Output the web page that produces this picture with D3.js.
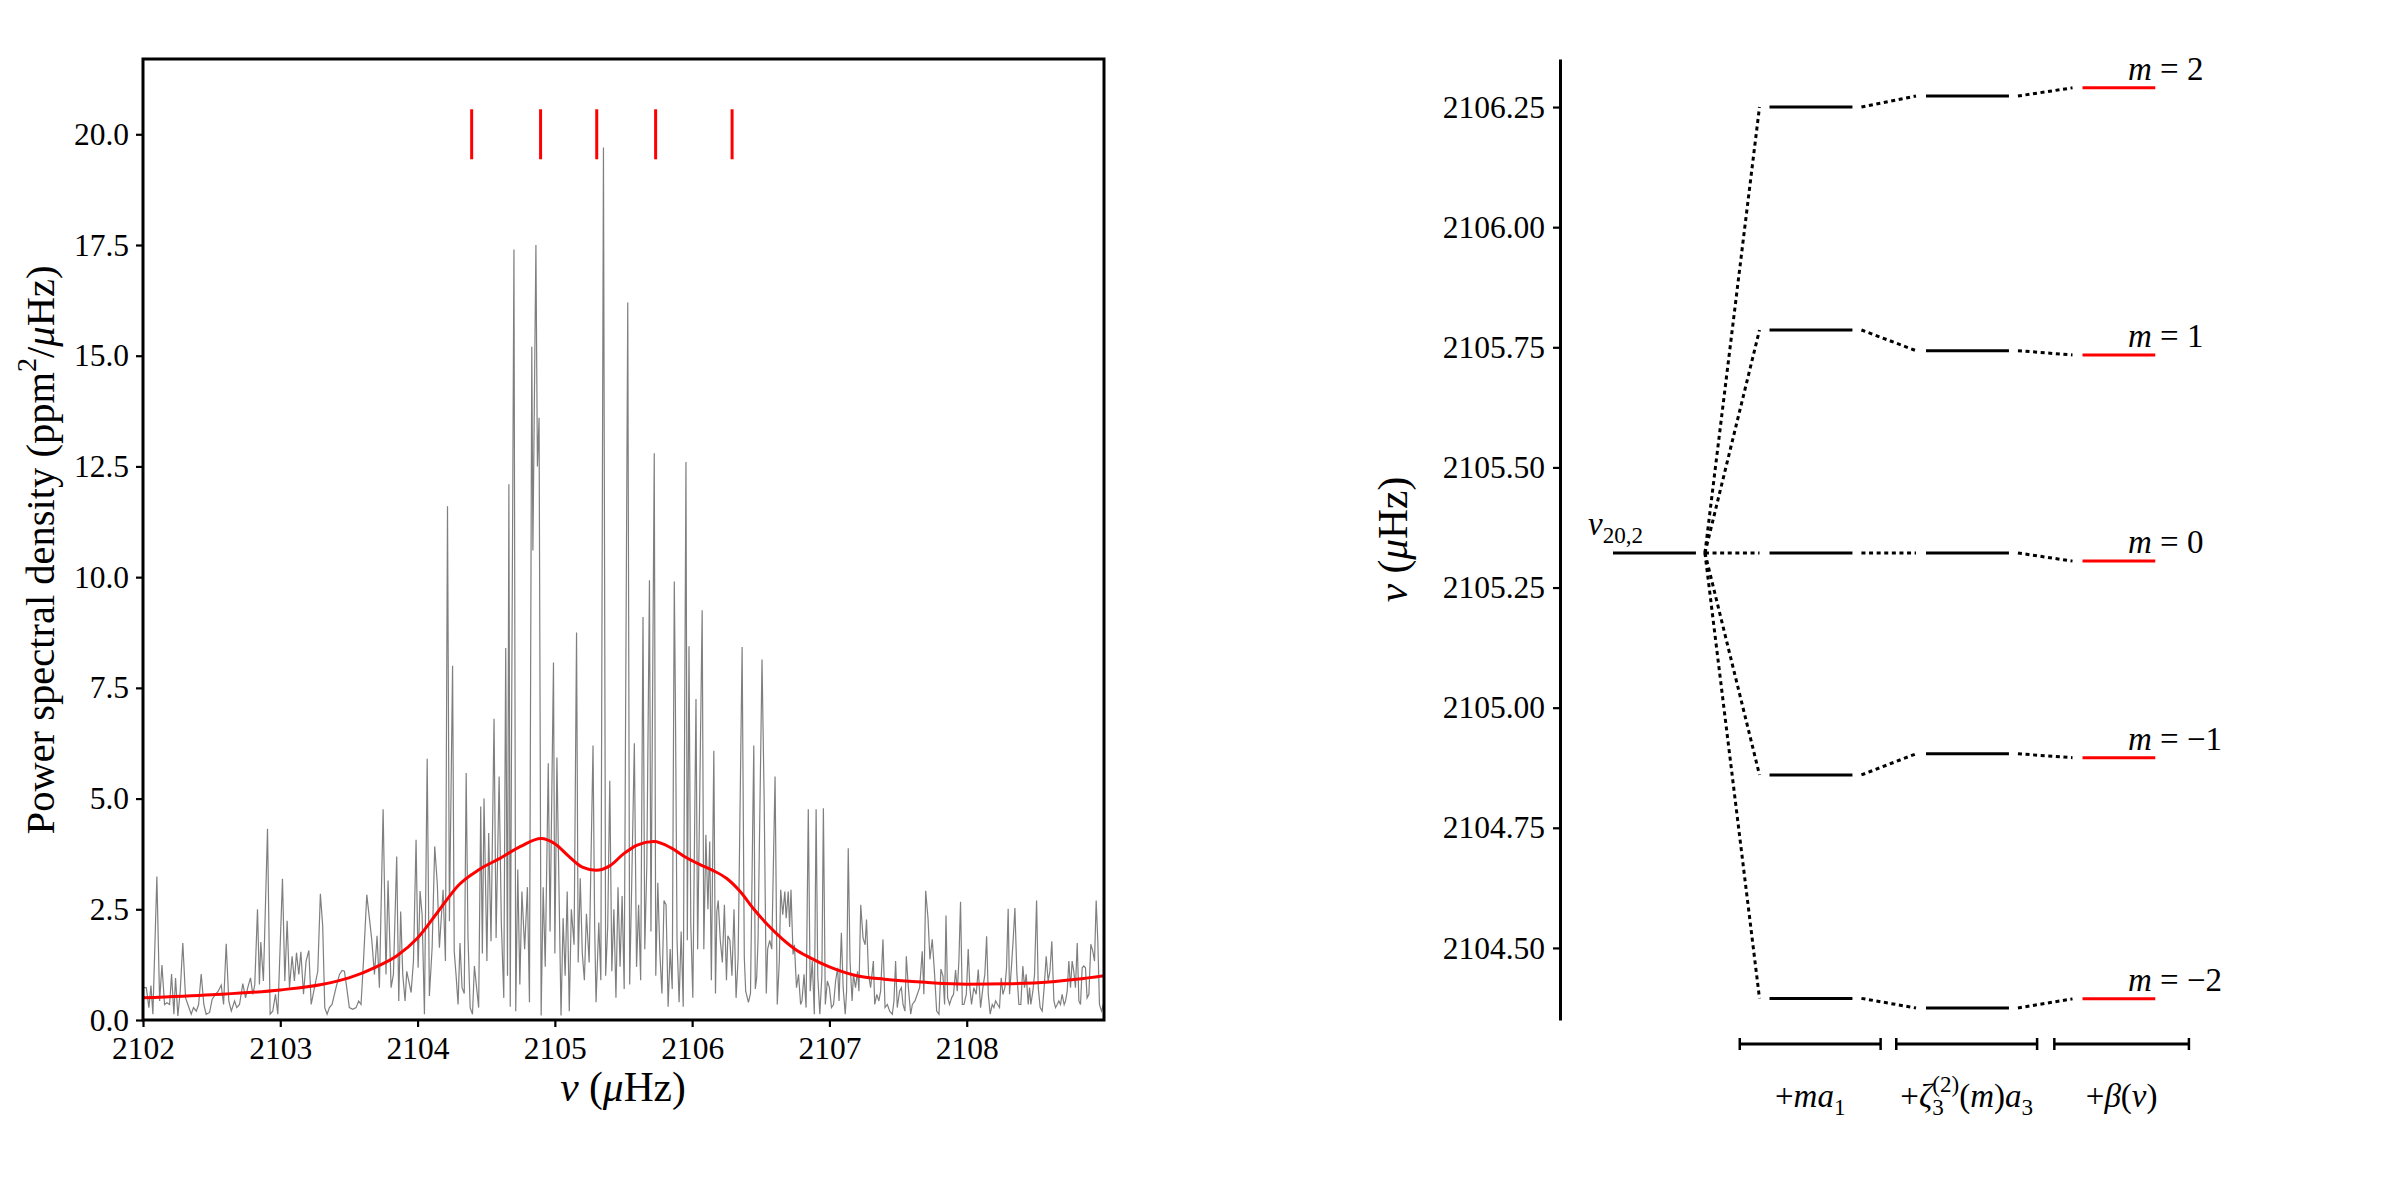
<!DOCTYPE html>
<html>
<head>
<meta charset="utf-8">
<script src="https://cdn.jsdelivr.net/npm/d3@7.8.5/dist/d3.min.js"></script>
<style>
  html, body { margin: 0; padding: 0; background: #fff; }
  svg { display: block; }
</style>
</head>
<body>
<svg id="chart" width="2400" height="1200"></svg>
<script>
// ---- left panel: power spectrum (freq in uHz, psd in ppm^2/uHz)
const spectrum = [
  [2102.000,0.73],[2102.024,0.73],[2102.043,0.28],[2102.058,0.78],[2102.072,0.13],[2102.101,3.24],[2102.121,0.43],[2102.138,1.24],
  [2102.157,0.35],[2102.174,0.39],[2102.194,0.35],[2102.208,1.04],[2102.225,0.13],[2102.237,0.95],[2102.254,0.09],[2102.271,0.65],
  [2102.290,1.74],[2102.310,0.50],[2102.327,0.35],[2102.351,0.13],[2102.368,0.28],[2102.388,0.20],[2102.405,0.35],[2102.424,1.04],
  [2102.443,0.35],[2102.460,0.13],[2102.485,0.17],[2102.504,0.47],[2102.528,0.58],[2102.548,0.65],[2102.570,0.79],[2102.587,0.35],
  [2102.606,1.72],[2102.625,0.43],[2102.643,0.20],[2102.667,0.43],[2102.683,0.28],[2102.703,0.35],[2102.727,0.82],[2102.747,0.50],
  [2102.763,0.73],[2102.783,0.95],[2102.800,0.58],[2102.814,0.79],[2102.834,2.50],[2102.848,0.80],[2102.858,1.76],[2102.877,0.88],
  [2102.907,4.32],[2102.926,0.13],[2102.945,0.20],[2102.965,0.58],[2102.982,0.13],[2103.016,3.19],[2103.033,0.88],[2103.050,2.24],
  [2103.067,0.73],[2103.086,1.44],[2103.103,0.88],[2103.118,1.52],[2103.135,1.03],[2103.150,1.54],[2103.169,0.58],[2103.188,1.33],
  [2103.208,1.57],[2103.225,0.35],[2103.249,0.73],[2103.273,1.10],[2103.292,2.85],[2103.309,2.12],[2103.324,0.28],[2103.341,0.13],
  [2103.358,0.28],[2103.377,0.35],[2103.406,0.73],[2103.431,1.03],[2103.450,1.12],[2103.467,1.10],[2103.484,0.73],[2103.503,0.28],
  [2103.528,0.24],[2103.552,0.28],[2103.571,0.43],[2103.588,0.35],[2103.606,1.33],[2103.630,2.83],[2103.649,2.30],[2103.666,1.82],
  [2103.686,1.03],[2103.705,1.90],[2103.722,0.73],[2103.749,4.76],[2103.770,1.03],[2103.785,3.15],[2103.807,0.73],[2103.824,1.03],
  [2103.848,3.69],[2103.863,0.43],[2103.877,2.45],[2103.892,1.03],[2103.909,0.43],[2103.921,1.10],[2103.936,0.88],[2103.953,0.62],
  [2103.970,1.33],[2103.989,4.07],[2104.004,1.18],[2104.018,2.91],[2104.033,2.38],[2104.050,0.13],[2104.070,5.90],[2104.086,0.54],
  [2104.106,1.63],[2104.125,3.92],[2104.144,3.06],[2104.159,1.63],[2104.171,2.23],[2104.186,2.94],[2104.203,1.33],[2104.218,11.6],
  [2104.232,2.23],[2104.255,8.00],[2104.267,1.55],[2104.280,1.03],[2104.295,0.35],[2104.309,1.74],[2104.324,0.73],[2104.340,0.60],
  [2104.354,5.58],[2104.367,1.90],[2104.383,0.28],[2104.400,0.13],[2104.414,1.22],[2104.430,0.73],[2104.445,0.28],[2104.460,4.82],
  [2104.472,1.50],[2104.484,5.00],[2104.505,1.33],[2104.518,4.22],[2104.535,1.78],[2104.557,6.80],[2104.572,1.85],[2104.594,5.50],
  [2104.610,2.20],[2104.628,0.50],[2104.642,8.40],[2104.655,1.00],[2104.665,12.1],[2104.675,0.30],[2104.702,17.4],[2104.715,0.20],
  [2104.730,3.40],[2104.745,0.80],[2104.760,2.90],[2104.780,1.60],[2104.800,3.00],[2104.815,0.40],[2104.832,15.2],[2104.840,10.6],
  [2104.862,17.5],[2104.873,12.5],[2104.885,13.6],[2104.900,0.10],[2104.915,3.00],[2104.930,1.20],[2104.952,5.80],[2104.965,2.00],
  [2104.990,8.07],[2105.000,1.50],[2105.015,5.93],[2105.030,3.00],[2105.045,0.10],[2105.060,2.30],[2105.075,1.00],[2105.090,2.90],
  [2105.105,0.20],[2105.120,2.50],[2105.140,1.70],[2105.158,8.75],[2105.170,1.30],[2105.185,3.20],[2105.200,1.50],[2105.215,0.90],
  [2105.230,2.40],[2105.250,1.30],[2105.278,6.20],[2105.290,2.10],[2105.300,0.40],[2105.320,2.20],[2105.335,0.90],[2105.354,19.7],
  [2105.370,1.00],[2105.385,2.10],[2105.400,5.40],[2105.415,1.10],[2105.430,2.50],[2105.445,0.50],[2105.460,3.00],[2105.475,1.20],
  [2105.490,2.80],[2105.505,0.70],[2105.531,16.2],[2105.545,0.80],[2105.560,3.10],[2105.579,6.25],[2105.595,1.20],[2105.610,2.60],
  [2105.625,0.90],[2105.642,9.10],[2105.655,1.60],[2105.670,3.50],[2105.689,9.93],[2105.700,2.00],[2105.724,12.8],[2105.735,1.00],
  [2105.750,3.10],[2105.765,1.50],[2105.780,0.60],[2105.795,2.70],[2105.810,2.60],[2105.825,0.30],[2105.840,1.60],[2105.855,0.70],
  [2105.870,9.90],[2105.878,7.20],[2105.890,1.80],[2105.905,0.40],[2105.920,2.00],[2105.935,0.30],[2105.955,12.6],[2105.965,1.80],
  [2105.977,8.44],[2105.990,2.20],[2106.005,0.50],[2106.028,7.25],[2106.040,1.60],[2106.055,5.00],[2106.073,9.25],[2106.085,1.60],
  [2106.100,4.18],[2106.115,2.50],[2106.128,4.03],[2106.140,0.90],[2106.158,6.08],[2106.170,0.60],[2106.180,2.45],[2106.190,2.70],
  [2106.205,1.80],[2106.220,1.30],[2106.235,2.60],[2106.250,0.90],[2106.260,1.90],[2106.275,1.80],[2106.290,1.00],[2106.305,2.50],
  [2106.320,0.50],[2106.335,1.40],[2106.364,8.42],[2106.380,1.40],[2106.390,0.65],[2106.410,0.40],[2106.425,0.60],[2106.449,6.20],
  [2106.460,0.70],[2106.470,0.95],[2106.480,1.80],[2106.509,8.14],[2106.525,4.86],[2106.540,0.60],[2106.550,1.60],[2106.565,1.80],
  [2106.580,1.60],[2106.604,5.50],[2106.620,0.35],[2106.635,1.33],[2106.645,2.94],[2106.660,2.38],[2106.675,2.90],[2106.685,2.30],
  [2106.700,2.90],[2106.710,2.10],[2106.720,2.94],[2106.735,1.48],[2106.745,1.70],[2106.760,0.73],[2106.775,1.03],[2106.790,0.35],
  [2106.800,0.43],[2106.815,1.03],[2106.830,0.28],[2106.846,4.76],[2106.860,0.65],[2106.875,1.33],[2106.890,0.13],[2106.903,4.76],
  [2106.915,1.00],[2106.930,0.13],[2106.945,1.00],[2106.956,4.78],[2106.970,0.35],[2106.985,0.88],[2107.000,0.73],[2107.015,0.28],
  [2107.030,0.35],[2107.045,0.88],[2107.060,1.18],[2107.070,0.43],[2107.087,1.97],[2107.100,0.73],[2107.115,0.13],[2107.125,0.65],
  [2107.137,3.88],[2107.150,1.33],[2107.165,0.43],[2107.175,1.03],[2107.190,0.73],[2107.205,1.10],[2107.215,0.65],[2107.228,2.60],
  [2107.245,1.85],[2107.260,1.70],[2107.270,2.27],[2107.285,1.03],[2107.300,0.73],[2107.320,1.33],[2107.330,0.35],[2107.345,0.58],
  [2107.360,0.43],[2107.373,0.65],[2107.390,1.82],[2107.405,0.28],[2107.422,0.35],[2107.439,0.20],[2107.458,0.13],[2107.470,0.43],
  [2107.482,1.33],[2107.494,0.28],[2107.511,0.65],[2107.524,0.73],[2107.536,0.35],[2107.550,0.20],[2107.560,1.44],[2107.575,0.73],
  [2107.592,0.13],[2107.604,0.35],[2107.623,0.43],[2107.640,0.58],[2107.657,0.73],[2107.676,1.55],[2107.688,0.58],[2107.701,2.92],
  [2107.718,2.30],[2107.732,1.37],[2107.749,1.82],[2107.766,1.03],[2107.781,0.20],[2107.798,0.13],[2107.812,1.15],[2107.827,0.99],
  [2107.839,0.35],[2107.849,2.36],[2107.861,0.50],[2107.875,0.35],[2107.890,0.50],[2107.904,0.58],[2107.919,1.13],[2107.931,0.65],
  [2107.943,1.33],[2107.955,2.67],[2107.968,0.35],[2107.980,0.35],[2107.997,0.58],[2108.011,1.60],[2108.023,0.73],[2108.035,0.35],
  [2108.052,0.73],[2108.069,0.58],[2108.084,1.14],[2108.101,0.28],[2108.118,0.73],[2108.132,1.03],[2108.145,1.89],[2108.157,0.58],
  [2108.171,0.13],[2108.186,0.35],[2108.198,0.28],[2108.210,0.43],[2108.225,0.35],[2108.239,0.28],[2108.251,0.95],[2108.264,0.58],
  [2108.278,0.73],[2108.290,1.18],[2108.302,2.51],[2108.312,0.58],[2108.327,1.26],[2108.339,1.84],[2108.351,2.53],[2108.365,1.07],
  [2108.380,0.35],[2108.394,0.35],[2108.409,1.22],[2108.421,0.73],[2108.433,1.03],[2108.448,0.35],[2108.458,0.73],[2108.467,0.35],
  [2108.482,0.65],[2108.494,1.03],[2108.509,2.70],[2108.521,0.73],[2108.535,0.28],[2108.550,0.20],[2108.564,0.73],[2108.579,1.44],
  [2108.593,0.88],[2108.606,1.10],[2108.620,1.78],[2108.635,0.43],[2108.647,0.28],[2108.659,0.35],[2108.671,0.43],[2108.683,0.35],
  [2108.695,0.58],[2108.710,0.35],[2108.720,0.43],[2108.732,0.65],[2108.744,1.33],[2108.756,0.73],[2108.768,1.33],[2108.780,1.10],
  [2108.792,0.73],[2108.805,1.74],[2108.817,0.43],[2108.829,0.35],[2108.841,1.18],[2108.853,1.22],[2108.865,1.18],[2108.877,0.50],
  [2108.890,0.58],[2108.904,1.71],[2108.918,1.56],[2108.931,1.33],[2108.943,2.70],[2108.955,1.78],[2108.967,0.35],[2108.982,0.20],
  [2109.000,0.40]
];

// fitted profile (red curve)
const model = [
  [2102.0,0.50],[2102.5,0.57],[2103.0,0.68],[2103.3,0.80],[2103.5,0.95],[2103.7,1.20],[2103.85,1.45],[2104.0,1.85],
  [2104.15,2.45],[2104.3,3.05],[2104.45,3.40],[2104.6,3.65],[2104.75,3.92],[2104.9,4.10],[2105.0,3.98],[2105.1,3.70],
  [2105.2,3.45],[2105.3,3.38],[2105.4,3.48],[2105.5,3.75],[2105.6,3.95],[2105.72,4.03],[2105.85,3.88],[2105.95,3.68],
  [2106.05,3.52],[2106.15,3.38],[2106.25,3.20],[2106.35,2.90],[2106.45,2.50],[2106.55,2.15],[2106.65,1.85],[2106.75,1.60],
  [2106.85,1.42],[2107.0,1.20],[2107.2,1.00],[2107.4,0.92],[2107.7,0.85],[2108.0,0.81],[2108.3,0.82],[2108.6,0.86],
  [2108.8,0.92],[2109.0,1.00]
];

const markFreqs = [2104.394, 2104.896, 2105.305, 2105.734, 2106.291];
const markLevel = 20;
const xTicksLeft = [2102, 2103, 2104, 2105, 2106, 2107, 2108];
const yTicksLeft = [0, 2.5, 5, 7.5, 10, 12.5, 15, 17.5, 20];

// ---- right panel: splitting diagram (uHz)
const mOrders = [2, 1, 0, -1, -2];
const baseFreq = 2105.322;
const stepRot = [2106.250, 2105.786, 2105.322, 2104.860, 2104.395];   // + m a1
const stepAcoef = [2106.273, 2105.743, 2105.322, 2104.904, 2104.375]; // + zeta a3
const stepFinal = [2106.290, 2105.734, 2105.305, 2104.896, 2104.394]; // + beta(nu)
const yTicksRight = [2104.5, 2104.75, 2105.0, 2105.25, 2105.5, 2105.75, 2106.0, 2106.25];

const FONT = "'Liberation Serif', 'Times New Roman', serif";
const TICK_FS = 31.5, LABEL_FS = 41.5, ANNOT_FS = 33;

const svg = d3.select('#chart');
svg.append('rect').attr('width', 2400).attr('height', 1200).attr('fill', '#fff');

// small helper for math-like labels (italic runs, sub/superscripts)
function mathText(parent, x, y, runs, opts) {
  const size = opts.size;
  const g = parent.append('g');
  const inner = g.append('g');
  let cx = 0, stack = null;
  runs.forEach(r => {
    const small = r.sub || r.sup;
    const fs = small ? size * 0.7 : size;
    const dy = r.sub ? size * 0.25 : (r.sup ? -size * 0.45 : 0);
    const t = inner.append('text')
      .attr('x', cx).attr('y', dy)
      .attr('font-family', FONT).attr('font-size', fs)
      .attr('font-style', r.it ? 'italic' : 'normal')
      .attr('fill', '#000')
      .text(r.s);
    const w = t.node().getComputedTextLength();
    if (r.stack) { stack = { x: cx, w }; }
    else if (stack) { cx = stack.x + Math.max(w, stack.w); stack = null; }
    else cx += w;
  });
  const off = opts.anchor === 'middle' ? -cx / 2 : opts.anchor === 'end' ? -cx : 0;
  inner.attr('transform', `translate(${off},0)`);
  g.attr('transform', `translate(${x},${y}) rotate(${opts.rotate || 0})`);
  return g;
}

function styleAxis(sel, fs) {
  sel.attr('font-family', FONT).attr('font-size', fs);
  sel.selectAll('.tick line').attr('stroke', '#000').attr('stroke-width', 2.2);
  sel.selectAll('.tick text').attr('fill', '#000');
}

// ================= left panel =================
const xL = d3.scaleLinear().domain([2102, 2109]).range([143, 1104]);
const yL = d3.scaleLinear().domain([0, 21.7]).range([1020, 59]);

svg.append('clipPath').attr('id', 'clipL')
  .append('rect').attr('x', 143).attr('y', 59).attr('width', 961).attr('height', 961);

const plotL = svg.append('g').attr('clip-path', 'url(#clipL)');

plotL.append('path')
  .datum(spectrum)
  .attr('fill', 'none')
  .attr('stroke', '#7f7f7f')
  .attr('stroke-width', 1.2)
  .attr('d', d3.line().x(d => xL(d[0])).y(d => yL(d[1])));

plotL.append('path')
  .datum(model)
  .attr('fill', 'none')
  .attr('stroke', '#ff0000')
  .attr('stroke-width', 3)
  .attr('d', d3.line().curve(d3.curveMonotoneX).x(d => xL(d[0])).y(d => yL(d[1])));

plotL.selectAll('line.mark')
  .data(markFreqs)
  .enter().append('line')
  .attr('class', 'mark')
  .attr('x1', d => xL(d)).attr('x2', d => xL(d))
  .attr('y1', yL(markLevel) - 25).attr('y2', yL(markLevel) + 25)
  .attr('stroke', '#ff0000').attr('stroke-width', 3);

const axBL = svg.append('g').attr('transform', 'translate(0,1020)')
  .call(d3.axisBottom(xL).tickValues(xTicksLeft).tickSize(7).tickSizeOuter(0).tickPadding(10).tickFormat(d3.format('d')));
axBL.select('.domain').remove();
styleAxis(axBL, TICK_FS);

const axLL = svg.append('g').attr('transform', 'translate(143,0)')
  .call(d3.axisLeft(yL).tickValues(yTicksLeft).tickSize(7).tickSizeOuter(0).tickPadding(7).tickFormat(d3.format('.1f')));
axLL.select('.domain').remove();
styleAxis(axLL, TICK_FS);

svg.append('rect')
  .attr('x', 143).attr('y', 59).attr('width', 961).attr('height', 961)
  .attr('fill', 'none').attr('stroke', '#000').attr('stroke-width', 3);

mathText(svg, 623, 1101, [
  { s: 'ν', it: true }, { s: '\u00a0(' }, { s: 'μ', it: true }, { s: 'Hz)' }
], { size: LABEL_FS, anchor: 'middle' });

mathText(svg, 54, 550, [
  { s: 'Power spectral density (ppm' }, { s: '2', sup: true }, { s: '/' }, { s: 'μ', it: true }, { s: 'Hz)' }
], { size: 40.5, anchor: 'middle', rotate: -90 });

// ================= right panel =================
const yR = d3.scaleLinear().domain([2104.35, 2106.35]).range([1020, 59]);
const xR = d3.scaleLinear().domain([0, 1]).range([1613, 1769.5]);

const axR = svg.append('g').attr('transform', 'translate(1560,0)')
  .call(d3.axisLeft(yR).tickValues(yTicksRight).tickSize(7).tickSizeOuter(0).tickPadding(8).tickFormat(d3.format('.2f')));
axR.select('.domain').attr('stroke', '#000').attr('stroke-width', 3);
styleAxis(axR, TICK_FS);

mathText(svg, 1407, 539.5, [
  { s: 'ν', it: true }, { s: '\u00a0(' }, { s: 'μ', it: true }, { s: 'Hz)' }
], { size: LABEL_FS, anchor: 'middle', rotate: -90 });

const steps = [stepRot, stepAcoef, stepFinal];
const stepWidth = [0.53, 0.53, 0.465];
const plotR = svg.append('g');

// connectors
const dotted = plotR.append('g')
  .attr('stroke', '#000').attr('stroke-width', 3)
  .attr('stroke-dasharray', '4,3.6').attr('fill', 'none');

steps.forEach((lev, i) => {
  const prev = i === 0 ? mOrders.map(() => baseFreq) : steps[i - 1];
  const prevEnd = i === 0 ? 0.53 : i + stepWidth[i - 1];
  dotted.selectAll(null)
    .data(lev)
    .enter().append('line')
    .attr('x1', xR(prevEnd) + 9).attr('y1', (d, k) => yR(prev[k]))
    .attr('x2', xR(i + 1) - 10).attr('y2', d => yR(d));
});

// base level
plotR.append('line')
  .attr('x1', xR(0)).attr('x2', xR(0.53))
  .attr('y1', yR(baseFreq)).attr('y2', yR(baseFreq))
  .attr('stroke', '#000').attr('stroke-width', 3);

steps.forEach((lev, i) => {
  plotR.selectAll(null)
    .data(lev)
    .enter().append('line')
    .attr('x1', xR(i + 1)).attr('x2', xR(i + 1 + stepWidth[i]))
    .attr('y1', d => yR(d)).attr('y2', d => yR(d))
    .attr('stroke', i === 2 ? '#ff0000' : '#000')
    .attr('stroke-width', 3);
});

mathText(svg, 1588, yR(baseFreq) - 18, [
  { s: 'ν', it: true }, { s: '20,2', sub: true }
], { size: ANNOT_FS });

stepFinal.forEach((f, k) => {
  const m = mOrders[k];
  mathText(svg, 2128, yR(f) - 8, [
    { s: 'm', it: true }, { s: '\u00a0=\u00a0' }, { s: m < 0 ? '\u2212' + Math.abs(m) : String(m) }
  ], { size: ANNOT_FS });
});

// brackets for each step
const bracketSpan = [[0.81, 1.71], [1.81, 2.71], [2.82, 3.68]];
const bracketY = 1044;
const brG = svg.append('g').attr('stroke', '#000');
bracketSpan.forEach(([a, b]) => {
  brG.append('line').attr('x1', xR(a)).attr('x2', xR(b)).attr('y1', bracketY).attr('y2', bracketY).attr('stroke-width', 3);
  [a, b].forEach(v => {
    brG.append('line').attr('x1', xR(v)).attr('x2', xR(v))
      .attr('y1', bracketY - 6).attr('y2', bracketY + 6).attr('stroke-width', 2.5);
  });
});

const stepLabels = [
  [{ s: '+' }, { s: 'ma', it: true }, { s: '1', sub: true }],
  [{ s: '+' }, { s: 'ζ', it: true }, { s: '(2)', sup: true, stack: true }, { s: '3', sub: true },
   { s: '(' }, { s: 'm', it: true }, { s: ')' }, { s: 'a', it: true }, { s: '3', sub: true }],
  [{ s: '+' }, { s: 'β', it: true }, { s: '(' }, { s: 'ν', it: true }, { s: ')' }]
];
stepLabels.forEach((runs, i) => {
  const [a, b] = bracketSpan[i];
  mathText(svg, xR((a + b) / 2), 1107, runs, { size: ANNOT_FS, anchor: 'middle' });
});
</script>
</body>
</html>
